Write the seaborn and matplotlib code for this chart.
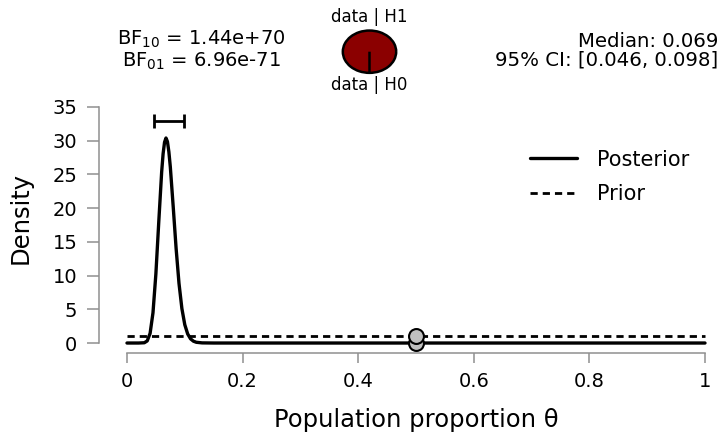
import matplotlib
matplotlib.use("Agg")
import matplotlib.pyplot as plt
import seaborn as sns

# Posterior density of the population proportion (Beta posterior, sampled)
theta = [0.0, 0.02, 0.03, 0.035, 0.04, 0.045, 0.05, 0.055, 0.06, 0.0625,
         0.065, 0.0675, 0.07, 0.0725, 0.075, 0.08, 0.085, 0.09, 0.095, 0.10,
         0.105, 0.11, 0.115, 0.12, 0.13, 0.15, 1.0]
posterior_density = [0.0, 0.0, 0.04, 0.31, 1.43, 4.49, 10.24, 17.96, 25.36, 28.07,
                     29.78, 30.40, 29.87, 28.34, 26.10, 20.19, 14.03, 8.84, 5.11, 2.72,
                     1.35, 0.62, 0.27, 0.11, 0.02, 0.0, 0.0]

# Uniform prior
prior_theta = [0.0, 1.0]
prior_density = [1.0, 1.0]

# Densities at the test value
test_value = 0.5
test_point_density = [0.0, 1.0]   # posterior, prior

# Posterior summary
median = 0.069
ci_lower = 0.046
ci_upper = 0.098

# Bayes factors
bf10 = 1.44e70
bf10_label = "1.44e+70"
bf01_label = "6.96e-71"

x_ticks = [0, 0.2, 0.4, 0.6, 0.8, 1]
x_tick_labels = ["0", "0.2", "0.4", "0.6", "0.8", "1"]
y_ticks = [0, 5, 10, 15, 20, 25, 30, 35]

sns.set_style("ticks")
plt.rcParams["font.family"] = ["DejaVu Sans"]
plt.rcParams["text.color"] = "black"
plt.rcParams["axes.labelcolor"] = "black"

W, H = 720, 432
fig = plt.figure(figsize=(W / 100, H / 100), dpi=100)

# main axes (pixel box: left 99, right 705, top 107, bottom 353)
L, R, T, B = 99, 705, 107, 353
ax = fig.add_axes([L / W, 1 - B / H, (R - L) / W, (B - T) / H])

sns.lineplot(x=theta, y=posterior_density, color="black", linewidth=2.4,
             label="Posterior", ax=ax, clip_on=False)
sns.lineplot(x=prior_theta, y=prior_density, color="black", linewidth=2.0,
             linestyle=(0, (2.6, 1.8)), label="Prior", ax=ax, clip_on=False)

sns.scatterplot(x=[test_value, test_value], y=test_point_density, s=115,
                color="#c0c0c0", edgecolor="black", linewidth=1.5, zorder=4,
                ax=ax, legend=False, clip_on=False)

# 95% credible interval bar above the peak
ci_y = max(posterior_density) + 2.5
ax.errorbar(median, ci_y, xerr=[[median - ci_lower], [ci_upper - median]],
            fmt="none", ecolor="black", elinewidth=2.0, capsize=5, capthick=2.0)

ax.set_xlim(-0.0484, 1.0)
ax.set_ylim(-1.48, 35)
ax.set_xticks(x_ticks)
ax.set_xticklabels(x_tick_labels)
ax.set_yticks(y_ticks)

for side in ("top", "right"):
    ax.spines[side].set_visible(False)
spine_gray = "#8f8f8f"
ax.spines["left"].set_bounds(0, 35)
ax.spines["bottom"].set_bounds(0, 1)
for side in ("left", "bottom"):
    ax.spines[side].set_color(spine_gray)
    ax.spines[side].set_linewidth(1.1)
ax.tick_params(axis="x", length=7.2, width=1.1, color=spine_gray, pad=6.5,
               labelsize=14, labelcolor="black")
ax.tick_params(axis="y", length=8.6, width=1.1, color=spine_gray, pad=7.0,
               labelsize=14, labelcolor="black")

ax.set_xlabel("Population proportion θ", fontsize=17.5)
ax.set_ylabel("Density", fontsize=17.5)
ax.xaxis.set_label_coords((416 - L) / (R - L), (B - 408) / (B - T))
ax.yaxis.set_label_coords((33 - L) / (R - L), (B - 218) / (B - T))

ax.legend(loc="upper left", bbox_to_anchor=((530 - L) / (R - L), (B - 149.5) / (B - T)),
          frameon=False, fontsize=15, handlelength=2.26, handletextpad=0.96,
          labelspacing=0.7, borderpad=0, borderaxespad=0)

# Bayes factor text
fig.text(201 / W, 1 - 45 / H, f"BF$_{{10}}$ = {bf10_label}", ha="center",
         va="baseline", fontsize=14)
fig.text(201 / W, 1 - 67 / H, f"BF$_{{01}}$ = {bf01_label}", ha="center",
         va="baseline", fontsize=14)

# posterior summary text
fig.text(718 / W, 1 - 47 / H, f"Median: {median:.3f}", ha="right",
         va="baseline", fontsize=14.2)
fig.text(718 / W, 1 - 65 / H, f"95% CI: [{ci_lower:.3f}, {ci_upper:.3f}]",
         ha="right", va="baseline", fontsize=14.2)

# probability wheel for data | H1 vs data | H0
p_h1 = bf10 / (1 + bf10)
p_h0 = 1 / (1 + bf10)
pie_w, pie_h = 55.5, 44
cx, cy = 369.5, 51.7
ax_pie = fig.add_axes([(cx - pie_w / 2) / W, 1 - (cy + pie_h / 2) / H, pie_w / W, pie_h / H])
ax_pie.pie([p_h1, p_h0], colors=["#8b0000", "white"], startangle=-90,
           wedgeprops=dict(edgecolor="black", linewidth=1.8))
ax_pie.set_aspect("auto")
ax_pie.set_xlim(-1.04, 1.04)
ax_pie.set_ylim(-1.04, 1.04)
ax_pie.axis("off")

fig.text(cx / W, 1 - 22 / H, "data | H1", ha="center", va="baseline", fontsize=12)
fig.text(cx / W, 1 - 90.5 / H, "data | H0", ha="center", va="baseline", fontsize=12)

fig.savefig("out.png", dpi=100)
